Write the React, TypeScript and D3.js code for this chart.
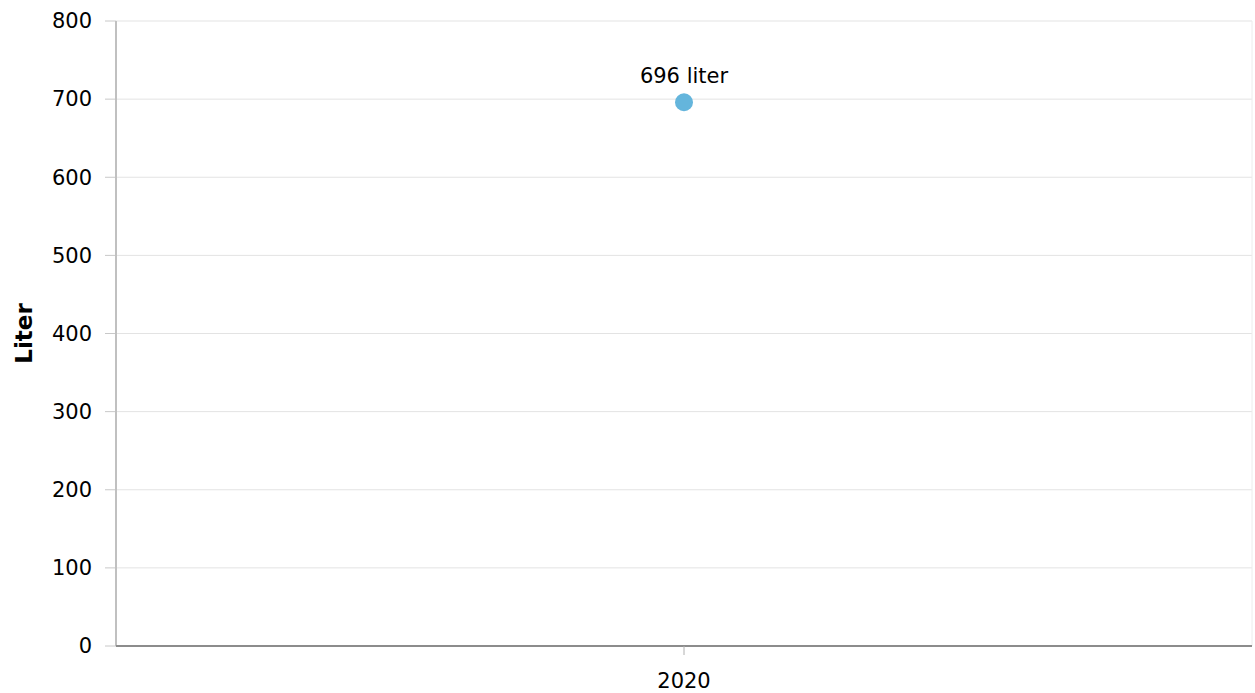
import React from "react";
import * as d3 from "d3";

const categories = ["2020"];
const values = [696];
const yTicks = [0, 100, 200, 300, 400, 500, 600, 700, 800];
const unit = "liter";
const yTitle = "Liter";

const W = 1255;
const H = 693;
const M = { left: 116, right: 3, top: 21, bottom: 47 };

export default function App() {
  const x = d3
    .scaleBand()
    .domain(categories)
    .range([M.left, W - M.right])
    .paddingInner(0)
    .paddingOuter(0);
  const y = d3.scaleLinear().domain([0, 800]).range([H - M.bottom, M.top]);
  const font = "'DejaVu Sans', Verdana, sans-serif";
  const x0 = M.left;
  const x1 = W - M.right;
  const yb = y(0);
  const fs = 21;
  return (
    <svg
      width={W}
      height={H}
      style={{ position: "absolute", left: 0, top: 0, background: "#fff" }}
      fontFamily={font}
    >
      {yTicks.map((t) => (
        <g key={t}>
          {t > 0 && (
            <line x1={x0} x2={x1} y1={y(t)} y2={y(t)} stroke="#e3e3e3" strokeWidth={1} />
          )}
          <line x1={x0 - 11} x2={x0} y1={y(t)} y2={y(t)} stroke="#c8c8c8" strokeWidth={1} />
          <text x={x0 - 24} y={y(t)} dy="0.35em" textAnchor="end" fontSize={fs} fill="#000">
            {t}
          </text>
        </g>
      ))}
      <line x1={x1} x2={x1} y1={M.top} y2={yb} stroke="#ececec" strokeWidth={1} />
      <line x1={x0} x2={x0} y1={M.top} y2={yb} stroke="#c0c0c0" strokeWidth={2} />
      <line x1={x0} x2={x1} y1={yb} y2={yb} stroke="#8c8c8c" strokeWidth={2} />
      {categories.map((c) => {
        const cx = (x(c) ?? 0) + x.bandwidth() / 2;
        return (
          <g key={c}>
            <line x1={cx} x2={cx} y1={yb} y2={yb + 9} stroke="#b0b0b0" strokeWidth={1} />
            <text x={cx} y={yb + 42} textAnchor="middle" fontSize={fs} fill="#000">
              {c}
            </text>
          </g>
        );
      })}
      {values.map((v, i) => {
        const cx = (x(categories[i]) ?? 0) + x.bandwidth() / 2;
        return (
          <g key={i}>
            <circle cx={cx} cy={y(v)} r={9} fill="#64b5dc" />
            <text x={cx} y={y(v) - 19} textAnchor="middle" fontSize={fs} fill="#000">
              {`${v} ${unit}`}
            </text>
          </g>
        );
      })}
      <text
        transform={`translate(32, ${(M.top + yb) / 2}) rotate(-90)`}
        textAnchor="middle"
        fontSize={23}
        fontWeight="bold"
        fill="#000"
      >
        {yTitle}
      </text>
    </svg>
  );
}
